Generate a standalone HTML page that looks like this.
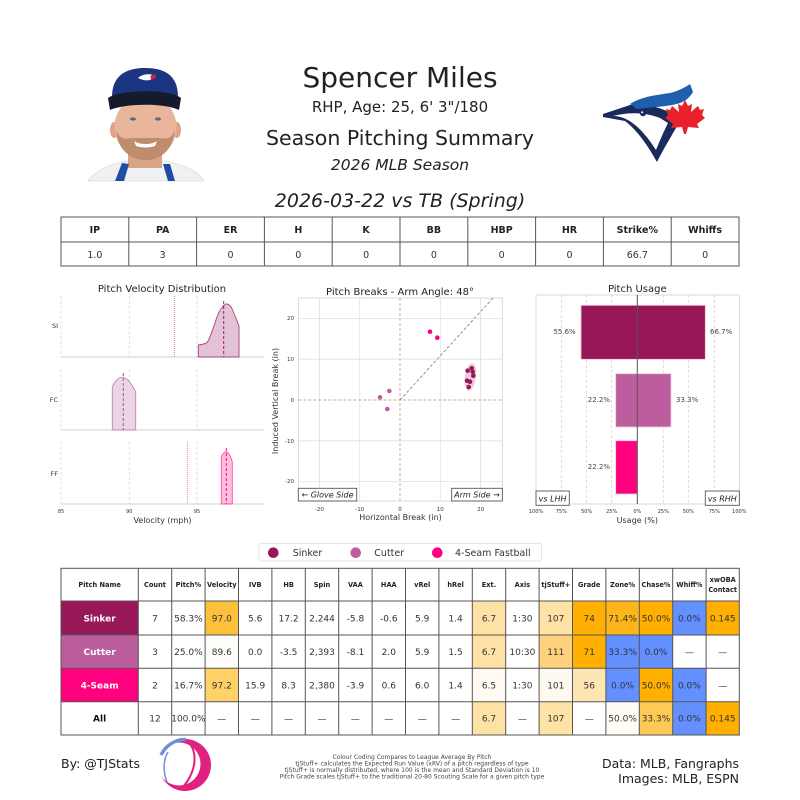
<!DOCTYPE html>
<html><head><meta charset="utf-8"><style>
html,body{margin:0;padding:0;background:#fff;}
svg{display:block;font-family:"DejaVu Sans","Liberation Sans",sans-serif;}
</style></head><body>
<svg width="800" height="800" viewBox="0 0 800 800" xmlns="http://www.w3.org/2000/svg">
<rect width="800" height="800" fill="#fff"/>

<!-- Headshot -->
<g>
<path d="M88,181 C95,170 112,164 125,161 L165,161 C180,164 198,170 204,181 Z" fill="#f1f1f3" stroke="#dcdce0" stroke-width="0.8"/>
<rect x="128" y="146" width="34" height="22" fill="#d9a386"/>
<path d="M115,181 L122,163 L129,164 L124,181 Z" fill="#1f4da3"/>
<path d="M168,181 L163,164 L170,164 L175,181 Z" fill="#1f4da3"/>
<ellipse cx="114" cy="130" rx="4" ry="8" fill="#dca488"/>
<ellipse cx="177" cy="130" rx="4" ry="8" fill="#dca488"/>
<ellipse cx="145.5" cy="127" rx="31" ry="32" fill="#e9b59b"/>
<path d="M116,130 C118,150 130,160 145.5,160 C161,160 173,150 175,130 C170,142 163,138 158,138 L133,138 C128,138 121,142 116,130 Z" fill="#b58263" opacity="0.8"/>
<path d="M134,141 C140,145 151,145 157,141 L155,146 C150,148 141,148 136,146 Z" fill="#fff"/>
<ellipse cx="133" cy="119" rx="3" ry="1.6" fill="#5a6a80"/>
<ellipse cx="158" cy="119" rx="3" ry="1.6" fill="#5a6a80"/>
<path d="M112,97 C112,74 128,68 145,68 C163,68 178,74 178,97 Z" fill="#1b3580"/>
<path d="M108,98 C120,89 170,89 181,98 L179,110 C165,103 126,103 110,110 Z" fill="#151a2c"/>
<path d="M138,78 C142,74 150,73 156,76 L150,80 C146,81 142,80 138,78 Z" fill="#fff"/>
<circle cx="153" cy="77" r="2.5" fill="#d3202c"/>
</g>

<!-- Header text -->
<text x="400" y="87" font-size="28" text-anchor="middle" fill="#222">Spencer Miles</text>
<text x="400" y="112" font-size="15" text-anchor="middle" fill="#222">RHP, Age: 25, 6' 3"/180</text>
<text x="400" y="145" font-size="20.5" text-anchor="middle" fill="#222">Season Pitching Summary</text>
<text x="400" y="170" font-size="15.5" font-style="italic" text-anchor="middle" fill="#222">2026 MLB Season</text>

<!-- Blue Jays logo -->
<g>
<path d="M603,114 L630,105 C645,103 660,107 673,114 L676,128 C669,140 663,150 657,162 C648,146 638,131 625,121 L603,117 Z" fill="#1a2a5c"/>
<path d="M613,116 C626,116 640,125 656,150 C660,140 664,131 668,123 L660,118 C645,112 628,112 613,116 Z" fill="#fff"/>
<path d="M630,104 C640,97 656,95 670,93 C678,91 684,88 690,84 L693,92 C690,97 686,101 680,103 C668,107 650,107 637,109 Z" fill="#1f5fae"/>
<circle cx="643" cy="113" r="3.2" fill="#1a2a5c"/>
<circle cx="642.2" cy="112.2" r="1" fill="#fff"/>
<path d="M685,100 L688,106 L692,104 L691,112 L698,106 L700,110 L704,109 L702,115 L705,118 L697,124 L699,128 L688,127 L686,134 L684,134 L682,127 L671,128 L673,124 L665,118 L668,115 L666,109 L670,110 L672,106 L679,112 L678,104 L682,106 Z" fill="#e8202a"/>
</g>

<!-- Game title -->
<text x="400" y="207" font-size="19" font-style="italic" text-anchor="middle" fill="#222">2026-03-22 vs TB (Spring)</text>

<!-- Stats table -->
<g stroke="#555" stroke-width="1" fill="none">
<rect x="61" y="217" width="678" height="49"/>
<line x1="61" y1="242" x2="739" y2="242"/>
<line x1="128.8" y1="217" x2="128.8" y2="266"/>
<line x1="196.6" y1="217" x2="196.6" y2="266"/>
<line x1="264.4" y1="217" x2="264.4" y2="266"/>
<line x1="332.2" y1="217" x2="332.2" y2="266"/>
<line x1="400" y1="217" x2="400" y2="266"/>
<line x1="467.8" y1="217" x2="467.8" y2="266"/>
<line x1="535.6" y1="217" x2="535.6" y2="266"/>
<line x1="603.4" y1="217" x2="603.4" y2="266"/>
<line x1="671.2" y1="217" x2="671.2" y2="266"/>
</g>
<g font-size="9.5" font-weight="bold" text-anchor="middle" fill="#222">
<text x="94.9" y="233">IP</text><text x="162.7" y="233">PA</text><text x="230.5" y="233">ER</text>
<text x="298.3" y="233">H</text><text x="366.1" y="233">K</text><text x="433.9" y="233">BB</text>
<text x="501.7" y="233">HBP</text><text x="569.5" y="233">HR</text><text x="637.3" y="233">Strike%</text>
<text x="705.1" y="233">Whiffs</text>
</g>
<g font-size="9.5" text-anchor="middle" fill="#333">
<text x="94.9" y="258">1.0</text><text x="162.7" y="258">3</text><text x="230.5" y="258">0</text>
<text x="298.3" y="258">0</text><text x="366.1" y="258">0</text><text x="433.9" y="258">0</text>
<text x="501.7" y="258">0</text><text x="569.5" y="258">0</text><text x="637.3" y="258">66.7</text>
<text x="705.1" y="258">0</text>
</g>

<!-- Velocity distribution -->
<text x="162" y="292" font-size="10" text-anchor="middle" fill="#222">Pitch Velocity Distribution</text>
<g stroke="#d8d8d8" stroke-width="0.8" stroke-dasharray="3,2">
<line x1="129.3" y1="296" x2="129.3" y2="357"/><line x1="197" y1="296" x2="197" y2="357"/>
<line x1="129.3" y1="369" x2="129.3" y2="430"/><line x1="197" y1="369" x2="197" y2="430"/>
<line x1="129.3" y1="442" x2="129.3" y2="504"/><line x1="197" y1="442" x2="197" y2="504"/>
<line x1="61" y1="296" x2="61" y2="357"/><line x1="61" y1="369" x2="61" y2="430"/><line x1="61" y1="442" x2="61" y2="504"/>
</g>
<g stroke="#d0d0d0" stroke-width="1">
<line x1="61" y1="357" x2="264" y2="357"/><line x1="61" y1="430" x2="264" y2="430"/><line x1="61" y1="504" x2="264" y2="504"/>
</g>
<!-- SI -->
<line x1="174.3" y1="296" x2="174.3" y2="357" stroke="#c0588f" stroke-width="0.8" stroke-dasharray="1,1"/>
<path d="M198.3,357 L198.3,345 C202,344.5 205,344 207,342.5 C210,339 212,331 215,323 C217,316 219,311 221.7,308 C223.5,305 225.5,303.5 227.3,304 C229.5,304.5 230.5,306 231.7,308 C233.5,312 235.5,317 236.7,320 L239,326 L239,357 Z" fill="#e3c2d6" stroke="#a8437c" stroke-width="0.9"/>
<line x1="223.7" y1="301" x2="223.7" y2="357" stroke="#a0196a" stroke-width="1" stroke-dasharray="3,2"/>
<!-- FC -->
<path d="M112.3,430 L112.3,386.7 C114,383 116,380 118.5,378.5 C120,377.5 121.5,377 122.7,377.3 C125,377.8 127,379 129,381 C131,383.5 133,386 135.7,392 L135.7,430 Z" fill="#ecd6e5" stroke="#c784b0" stroke-width="0.9"/>
<line x1="123.3" y1="373" x2="123.3" y2="430" stroke="#b04f8a" stroke-width="1" stroke-dasharray="3,2"/>
<!-- FF -->
<line x1="187.3" y1="442" x2="187.3" y2="504" stroke="#ff5aa8" stroke-width="0.8" stroke-dasharray="1,1"/>
<path d="M221.3,504 L221.3,456.7 C222.5,454 224.5,451.7 226,451.7 C228,451.7 230,454.5 232.3,461.7 L232.3,504 Z" fill="#ffbedd" stroke="#ff4fa5" stroke-width="0.9"/>
<line x1="226.3" y1="448" x2="226.3" y2="504" stroke="#ff007f" stroke-width="1" stroke-dasharray="3,2"/>
<g font-size="6.5" text-anchor="end" fill="#333">
<text x="58" y="328">SI</text><text x="58" y="402">FC</text><text x="58" y="476">FF</text>
</g>
<g font-size="5" text-anchor="middle" fill="#333">
<text x="61" y="513">85</text><text x="129.3" y="513">90</text><text x="197" y="513">95</text>
</g>
<text x="162.5" y="523" font-size="8" text-anchor="middle" fill="#333">Velocity (mph)</text>

<!-- Pitch breaks -->
<text x="400" y="295" font-size="10" text-anchor="middle" fill="#222">Pitch Breaks - Arm Angle: 48°</text>
<g stroke="#e0e0e0" stroke-width="0.8">
<line x1="319.4" y1="298" x2="319.4" y2="501"/><line x1="359.7" y1="298" x2="359.7" y2="501"/>
<line x1="440.3" y1="298" x2="440.3" y2="501"/><line x1="480.6" y1="298" x2="480.6" y2="501"/>
<line x1="298" y1="318.4" x2="502" y2="318.4"/><line x1="298" y1="359.2" x2="502" y2="359.2"/>
<line x1="298" y1="440.8" x2="502" y2="440.8"/><line x1="298" y1="481.6" x2="502" y2="481.6"/>
</g>
<rect x="298.3" y="298" width="204" height="203" fill="none" stroke="#d0d0d0" stroke-width="0.8"/>
<line x1="400" y1="298" x2="400" y2="501" stroke="#d9a287" stroke-width="0.9" stroke-dasharray="3,2"/>
<line x1="298.3" y1="400" x2="502.3" y2="400" stroke="#d9a287" stroke-width="0.9" stroke-dasharray="3,2"/>
<line x1="400" y1="400" x2="493" y2="298" stroke="#888" stroke-width="0.9" stroke-dasharray="3,2"/>
<ellipse cx="470.5" cy="377" rx="5.5" ry="14" transform="rotate(8 470.5 377)" fill="#e8c2d8" opacity="0.85"/>
<g fill="#ff007f"><circle cx="430" cy="331.7" r="2.3"/><circle cx="437.3" cy="337.7" r="2.3"/></g>
<g fill="#bc5e9e"><circle cx="380" cy="397.3" r="2.3"/><circle cx="389.3" cy="391" r="2.3"/><circle cx="387.3" cy="409" r="2.3"/></g>
<g fill="#981759"><circle cx="471.7" cy="368.3" r="2.3"/><circle cx="467.7" cy="370.7" r="2.3"/><circle cx="472.7" cy="371.7" r="2.3"/><circle cx="473.3" cy="375.7" r="2.3"/><circle cx="467" cy="380.7" r="2.3"/><circle cx="470" cy="381.7" r="2.3"/><circle cx="468.7" cy="387" r="2.3"/></g>
<g font-size="5.5" text-anchor="end" fill="#333">
<text x="294" y="320">20</text><text x="294" y="361">10</text><text x="294" y="402">0</text><text x="294" y="443">-10</text><text x="294" y="483">-20</text>
</g>
<g font-size="5.5" text-anchor="middle" fill="#333">
<text x="319.4" y="511">-20</text><text x="359.7" y="511">-10</text><text x="400" y="511">0</text><text x="440.3" y="511">10</text><text x="480.6" y="511">20</text>
</g>
<text x="400.5" y="520" font-size="8" text-anchor="middle" fill="#333">Horizontal Break (in)</text>
<text x="0" y="0" font-size="8" text-anchor="middle" fill="#333" transform="translate(278,401) rotate(-90)">Induced Vertical Break (in)</text>
<rect x="298.3" y="488.3" width="58.4" height="12.7" fill="#fff" stroke="#555" stroke-width="0.9"/>
<text x="327.5" y="497.7" font-size="8" font-style="italic" text-anchor="middle" fill="#222">← Glove Side</text>
<rect x="451.7" y="488.3" width="50.6" height="12.7" fill="#fff" stroke="#555" stroke-width="0.9"/>
<text x="477" y="497.7" font-size="8" font-style="italic" text-anchor="middle" fill="#222">Arm Side →</text>

<!-- Pitch usage -->
<text x="637.3" y="292" font-size="10" text-anchor="middle" fill="#222">Pitch Usage</text>
<g stroke="#d4d4d4" stroke-width="0.8" stroke-dasharray="3,2">
<line x1="561.3" y1="295" x2="561.3" y2="504"/><line x1="586.7" y1="295" x2="586.7" y2="504"/>
<line x1="611.7" y1="295" x2="611.7" y2="504"/><line x1="663.3" y1="295" x2="663.3" y2="504"/>
<line x1="688.3" y1="295" x2="688.3" y2="504"/><line x1="714.3" y1="295" x2="714.3" y2="504"/>
</g>
<rect x="536" y="295" width="203.3" height="209" fill="none" stroke="#d0d0d0" stroke-width="0.8"/>
<rect x="581" y="305.3" width="124.3" height="54" fill="#981759" stroke="#f2c9dd" stroke-width="0.8"/>
<rect x="615.7" y="373.7" width="55.3" height="53.3" fill="#bc5e9e" stroke="#f2c9dd" stroke-width="0.8"/>
<rect x="615.7" y="440.7" width="21.6" height="53.3" fill="#ff007f" stroke="#f2c9dd" stroke-width="0.8"/>
<line x1="637.3" y1="295" x2="637.3" y2="504" stroke="#555" stroke-width="1"/>
<g font-size="7" fill="#444">
<text x="575.7" y="334" text-anchor="end">55.6%</text><text x="710" y="334">66.7%</text>
<text x="610" y="402" text-anchor="end">22.2%</text><text x="676" y="402">33.3%</text>
<text x="610" y="469" text-anchor="end">22.2%</text>
</g>
<rect x="536" y="491" width="33.3" height="14.3" fill="#fff" stroke="#555" stroke-width="0.9"/>
<text x="552.6" y="501.5" font-size="8" font-style="italic" text-anchor="middle" fill="#222">vs LHH</text>
<rect x="705.3" y="491" width="34" height="14.3" fill="#fff" stroke="#555" stroke-width="0.9"/>
<text x="722.3" y="501.5" font-size="8" font-style="italic" text-anchor="middle" fill="#222">vs RHH</text>
<g font-size="5" text-anchor="middle" fill="#333">
<text x="536" y="513">100%</text><text x="561.3" y="513">75%</text><text x="586.7" y="513">50%</text><text x="611.7" y="513">25%</text>
<text x="637.3" y="513">0%</text><text x="663.3" y="513">25%</text><text x="688.3" y="513">50%</text><text x="714.3" y="513">75%</text><text x="739.3" y="513">100%</text>
</g>
<text x="637.3" y="523" font-size="8" text-anchor="middle" fill="#333">Usage (%)</text>

<!-- Legend -->
<rect x="259" y="543.3" width="282.7" height="17.7" rx="2" fill="#fff" stroke="#ddd" stroke-width="0.8"/>
<circle cx="273.3" cy="552.7" r="5.3" fill="#981759"/>
<text x="292.7" y="556" font-size="9.5" fill="#333">Sinker</text>
<circle cx="355.7" cy="552.7" r="5.3" fill="#bc5e9e"/>
<text x="374.3" y="556" font-size="9.5" fill="#333">Cutter</text>
<circle cx="437.3" cy="552.7" r="5.3" fill="#ff007f"/>
<text x="455" y="556" font-size="9.5" fill="#333">4-Seam Fastball</text>

<!-- Pitch table cell backgrounds -->
<g>
<rect x="61" y="601" width="77.3" height="34" fill="#981759"/>
<rect x="61" y="635" width="77.3" height="33.3" fill="#bc5e9e"/>
<rect x="61" y="668.3" width="77.3" height="33.4" fill="#ff007f"/>
<rect x="205.1" y="601" width="33.4" height="34" fill="#fdc03a"/>
<rect x="472.3" y="601" width="33.4" height="34" fill="#fee2a5"/>
<rect x="539.1" y="601" width="33.4" height="34" fill="#fee2a6"/>
<rect x="572.5" y="601" width="33.4" height="34" fill="#ffb000"/>
<rect x="605.9" y="601" width="33.4" height="34" fill="#fdb51a"/>
<rect x="639.3" y="601" width="33.4" height="34" fill="#ffb000"/>
<rect x="672.7" y="601" width="33.4" height="34" fill="#648fff"/>
<rect x="706.1" y="601" width="33.2" height="34" fill="#ffb000"/>
<rect x="205.1" y="635" width="33.4" height="33.3" fill="#fffdfa"/>
<rect x="472.3" y="635" width="33.4" height="33.3" fill="#fee2a5"/>
<rect x="539.1" y="635" width="33.4" height="33.3" fill="#fed27c"/>
<rect x="572.5" y="635" width="33.4" height="33.3" fill="#ffb000"/>
<rect x="605.9" y="635" width="33.4" height="33.3" fill="#648fff"/>
<rect x="639.3" y="635" width="33.4" height="33.3" fill="#648fff"/>
<rect x="205.1" y="668.3" width="33.4" height="33.4" fill="#fed266"/>
<rect x="472.3" y="668.3" width="33.4" height="33.4" fill="#fffbf3"/>
<rect x="539.1" y="668.3" width="33.4" height="33.4" fill="#fffaf0"/>
<rect x="572.5" y="668.3" width="33.4" height="33.4" fill="#fee6b3"/>
<rect x="605.9" y="668.3" width="33.4" height="33.4" fill="#648fff"/>
<rect x="639.3" y="668.3" width="33.4" height="33.4" fill="#ffb000"/>
<rect x="672.7" y="668.3" width="33.4" height="33.4" fill="#648fff"/>
<rect x="472.3" y="701.7" width="33.4" height="33.3" fill="#fee2a5"/>
<rect x="539.1" y="701.7" width="33.4" height="33.3" fill="#fee2a6"/>
<rect x="605.9" y="701.7" width="33.4" height="33.3" fill="#fffcf6"/>
<rect x="639.3" y="701.7" width="33.4" height="33.3" fill="#fec954"/>
<rect x="672.7" y="701.7" width="33.4" height="33.3" fill="#648fff"/>
<rect x="706.1" y="701.7" width="33.2" height="33.3" fill="#ffb000"/>
</g>
<!-- Pitch table grid -->
<g stroke="#555" stroke-width="1" fill="none">
<rect x="61" y="568.3" width="678.3" height="166.7"/>
<line x1="61" y1="601" x2="739.3" y2="601"/>
<line x1="61" y1="635" x2="739.3" y2="635"/>
<line x1="61" y1="668.3" x2="739.3" y2="668.3"/>
<line x1="61" y1="701.7" x2="739.3" y2="701.7"/>
<line x1="138.3" y1="568.3" x2="138.3" y2="735"/><line x1="171.7" y1="568.3" x2="171.7" y2="735"/>
<line x1="205.1" y1="568.3" x2="205.1" y2="735"/><line x1="238.5" y1="568.3" x2="238.5" y2="735"/>
<line x1="271.9" y1="568.3" x2="271.9" y2="735"/><line x1="305.3" y1="568.3" x2="305.3" y2="735"/>
<line x1="338.7" y1="568.3" x2="338.7" y2="735"/><line x1="372.1" y1="568.3" x2="372.1" y2="735"/>
<line x1="405.5" y1="568.3" x2="405.5" y2="735"/><line x1="438.9" y1="568.3" x2="438.9" y2="735"/>
<line x1="472.3" y1="568.3" x2="472.3" y2="735"/><line x1="505.7" y1="568.3" x2="505.7" y2="735"/>
<line x1="539.1" y1="568.3" x2="539.1" y2="735"/><line x1="572.5" y1="568.3" x2="572.5" y2="735"/>
<line x1="605.9" y1="568.3" x2="605.9" y2="735"/><line x1="639.3" y1="568.3" x2="639.3" y2="735"/>
<line x1="672.7" y1="568.3" x2="672.7" y2="735"/><line x1="706.1" y1="568.3" x2="706.1" y2="735"/>
</g>
<!-- Header labels -->
<g font-size="6.6" font-weight="bold" text-anchor="middle" fill="#222">
<text x="99.6" y="587">Pitch Name</text>
<text x="155" y="587">Count</text><text x="188.4" y="587">Pitch%</text><text x="221.8" y="587">Velocity</text>
<text x="255.2" y="587">IVB</text><text x="288.6" y="587">HB</text><text x="322" y="587">Spin</text>
<text x="355.4" y="587">VAA</text><text x="388.8" y="587">HAA</text><text x="422.2" y="587">vRel</text>
<text x="455.6" y="587">hRel</text><text x="489" y="587">Ext.</text><text x="522.4" y="587">Axis</text>
<text x="555.8" y="587">tjStuff+</text><text x="589.2" y="587">Grade</text><text x="622.6" y="587">Zone%</text>
<text x="656" y="587">Chase%</text><text x="689.4" y="587">Whiff%</text>
<text x="722.7" y="582">xwOBA</text><text x="722.7" y="592">Contact</text>
</g>
<!-- Pitch names -->
<g font-size="9" font-weight="bold" text-anchor="middle">
<text x="99.6" y="621.3" fill="#fff">Sinker</text>
<text x="99.6" y="655" fill="#fff">Cutter</text>
<text x="99.6" y="688.3" fill="#fff">4-Seam</text>
<text x="99.6" y="721.6" fill="#111">All</text>
</g>
<!-- Row values -->
<g font-size="9" text-anchor="middle" fill="#333">
<text y="621.3"><tspan x="155">7</tspan><tspan x="188.4">58.3%</tspan><tspan x="221.8">97.0</tspan><tspan x="255.2">5.6</tspan><tspan x="288.6">17.2</tspan><tspan x="322">2,244</tspan><tspan x="355.4">-5.8</tspan><tspan x="388.8">-0.6</tspan><tspan x="422.2">5.9</tspan><tspan x="455.6">1.4</tspan><tspan x="489">6.7</tspan><tspan x="522.4">1:30</tspan><tspan x="555.8">107</tspan><tspan x="589.2">74</tspan><tspan x="622.6">71.4%</tspan><tspan x="656">50.0%</tspan><tspan x="689.4">0.0%</tspan><tspan x="722.7">0.145</tspan></text>
<text y="655"><tspan x="155">3</tspan><tspan x="188.4">25.0%</tspan><tspan x="221.8">89.6</tspan><tspan x="255.2">0.0</tspan><tspan x="288.6">-3.5</tspan><tspan x="322">2,393</tspan><tspan x="355.4">-8.1</tspan><tspan x="388.8">2.0</tspan><tspan x="422.2">5.9</tspan><tspan x="455.6">1.5</tspan><tspan x="489">6.7</tspan><tspan x="522.4">10:30</tspan><tspan x="555.8">111</tspan><tspan x="589.2">71</tspan><tspan x="622.6">33.3%</tspan><tspan x="656">0.0%</tspan><tspan x="689.4">—</tspan><tspan x="722.7">—</tspan></text>
<text y="688.3"><tspan x="155">2</tspan><tspan x="188.4">16.7%</tspan><tspan x="221.8">97.2</tspan><tspan x="255.2">15.9</tspan><tspan x="288.6">8.3</tspan><tspan x="322">2,380</tspan><tspan x="355.4">-3.9</tspan><tspan x="388.8">0.6</tspan><tspan x="422.2">6.0</tspan><tspan x="455.6">1.4</tspan><tspan x="489">6.5</tspan><tspan x="522.4">1:30</tspan><tspan x="555.8">101</tspan><tspan x="589.2">56</tspan><tspan x="622.6">0.0%</tspan><tspan x="656">50.0%</tspan><tspan x="689.4">0.0%</tspan><tspan x="722.7">—</tspan></text>
<text y="721.6"><tspan x="155">12</tspan><tspan x="188.4">100.0%</tspan><tspan x="221.8">—</tspan><tspan x="255.2">—</tspan><tspan x="288.6">—</tspan><tspan x="322">—</tspan><tspan x="355.4">—</tspan><tspan x="388.8">—</tspan><tspan x="422.2">—</tspan><tspan x="455.6">—</tspan><tspan x="489">6.7</tspan><tspan x="522.4">—</tspan><tspan x="555.8">107</tspan><tspan x="589.2">—</tspan><tspan x="622.6">50.0%</tspan><tspan x="656">33.3%</tspan><tspan x="689.4">0.0%</tspan><tspan x="722.7">0.145</tspan></text>
</g>

<!-- Footer -->
<text x="61" y="768" font-size="12.5" fill="#222">By: @TJStats</text>
<g>
<circle cx="185" cy="765" r="26" fill="#e0217f"/>
<circle cx="179" cy="764" r="21.5" fill="#fff"/>
<path d="M186,739.5 C176,739 166,745 161,755" fill="none" stroke="#6d8fd3" stroke-width="3.5"/>
<path d="M168,752 C163,760 163,772 167,782" fill="none" stroke="#6d8fd3" stroke-width="1.5"/>
<path d="M186,740 C200,750 196,775 180,790" fill="none" stroke="#e0217f" stroke-width="2"/>
</g>
<g font-size="6" text-anchor="middle" fill="#444">
<text x="412" y="759">Colour Coding Compares to League Average By Pitch</text>
<text x="412" y="765.5">tjStuff+ calculates the Expected Run Value (xRV) of a pitch regardless of type</text>
<text x="412" y="772">tjStuff+ is normally distributed, where 100 is the mean and Standard Deviation is 10</text>
<text x="412" y="778.5">Pitch Grade scales tjStuff+ to the traditional 20-80 Scouting Scale for a given pitch type</text>
</g>
<text x="739" y="768" font-size="12.5" text-anchor="end" fill="#222">Data: MLB, Fangraphs</text>
<text x="739" y="783" font-size="12.5" text-anchor="end" fill="#222">Images: MLB, ESPN</text>
</svg>
</body></html>
